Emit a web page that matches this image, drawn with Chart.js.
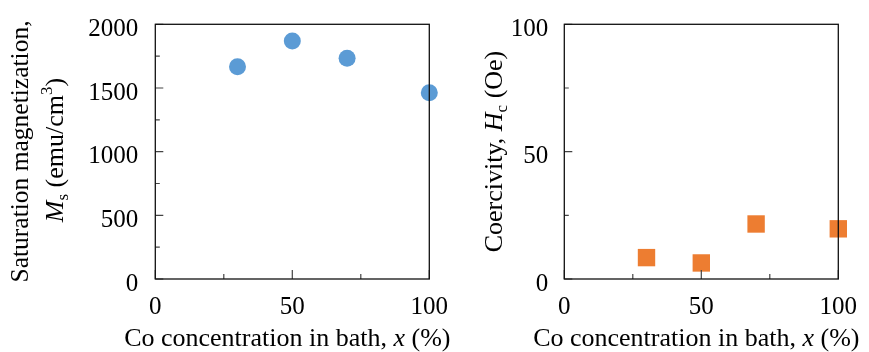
<!DOCTYPE html>
<html>
<head>
<meta charset="utf-8">
<title>Ms and Hc vs Co concentration</title>
<script src="https://cdn.jsdelivr.net/npm/chart.js@4/dist/chart.umd.min.js"></script>
<style>
html, body { margin: 0; padding: 0; background: #fff; }
#wrap { position: relative; width: 869px; height: 352px; }
#wrap canvas { position: absolute; left: 0; top: 0; }
</style>
</head>
<body>
<div id="wrap">
  <canvas id="msChart" width="869" height="352"></canvas>
  <canvas id="hcChart" width="869" height="352"></canvas>
</div>
<script>
// data
const concentration = [30, 50, 70, 100];
const saturation = [1667, 1869, 1733, 1463];   // emu/cm3
const coercivity = [8.4, 6.3, 21.6, 19.7];     // Oe

const xTicksMajor = [0, 50, 100];
const xTicksMinor = [25, 75];
const msTicksMajor = [0, 500, 1000, 1500, 2000];
const msTicksMinor = [250, 750, 1250, 1750];
const hcTicksMajor = [0, 50, 100];
const hcTicksMinor = [25, 75];

const SERIF = "'Liberation Serif', 'Times New Roman', serif";
const FS = 26;   // title text size
const TS = 25;   // tick label size
const SS = 17;   // sub/superscript size

function font(size, italic) {
    return (italic ? 'italic ' : '') + size + 'px ' + SERIF;
}

// draws a list of text pieces on one baseline, centred on (0,0) after transform
function drawRich(ctx, parts, cx, cy, angle) {
    ctx.save();
    ctx.translate(cx, cy);
    ctx.rotate(angle);
    ctx.fillStyle = '#000';
    ctx.textBaseline = 'alphabetic';
    ctx.textAlign = 'left';
    let w = 0;
    parts.forEach(p => { ctx.font = p.font; w += ctx.measureText(p.t).width; });
    let x = -w / 2;
    parts.forEach(p => {
        ctx.font = p.font;
        ctx.fillText(p.t, x, p.dy || 0);
        x += ctx.measureText(p.t).width;
    });
    ctx.restore();
}

// frame, inward ticks and titles
const framePlugin = {
    id: 'frame',
    afterDraw(chart, args, o) {
        const ctx = chart.ctx;
        const a = chart.chartArea;
        const xs = chart.scales.x, ys = chart.scales.y;
        ctx.save();
        ctx.strokeStyle = '#444';
        ctx.lineWidth = 1.2;
        ctx.beginPath();
        o.xMajor.forEach(v => { const p = xs.getPixelForValue(v); ctx.moveTo(p, a.bottom); ctx.lineTo(p, a.bottom - 9); });
        o.xMinor.forEach(v => { const p = xs.getPixelForValue(v); ctx.moveTo(p, a.bottom); ctx.lineTo(p, a.bottom - 5); });
        o.yMajor.forEach(v => { const p = ys.getPixelForValue(v); ctx.moveTo(a.left, p); ctx.lineTo(a.left + 8, p); });
        o.yMinor.forEach(v => { const p = ys.getPixelForValue(v); ctx.moveTo(a.left, p); ctx.lineTo(a.left + 4.5, p); });
        ctx.stroke();
        ctx.strokeStyle = '#111';
        ctx.lineWidth = 1.3;
        ctx.strokeRect(a.left, a.top, a.right - a.left, a.bottom - a.top);
        ctx.restore();

        // x title
        drawRich(ctx, [
            { t: 'Co concentration in bath, ', font: font(FS) },
            { t: 'x', font: font(FS, true) },
            { t: ' (%)', font: font(FS) }
        ], (a.left + a.right) / 2 - 5, 346, 0);

        // y title lines
        o.yTitle.forEach(line => drawRich(ctx, line.parts, line.x, line.y, -Math.PI / 2));
    }
};
Chart.register(framePlugin);

function scatterChart(id, values, color, style, radius, yMax, yStep, pad, yWidth, labelPad, frameOpts) {
    return new Chart(document.getElementById(id), {
        type: 'scatter',
        data: {
            datasets: [{
                data: concentration.map((c, i) => ({ x: c, y: values[i] })),
                pointStyle: style,
                pointRadius: radius,
                pointHoverRadius: radius,
                backgroundColor: color,
                borderColor: color,
                borderWidth: 0,
                clip: false
            }]
        },
        options: {
            responsive: false,
            animation: false,
            events: [],
            layout: { padding: pad },
            plugins: { legend: { display: false }, tooltip: { enabled: false }, frame: frameOpts },
            scales: {
                x: {
                    type: 'linear', min: 0, max: 100,
                    grid: { display: false },
                    border: { display: false },
                    ticks: { stepSize: 50, color: '#000', font: { family: SERIF, size: TS }, padding: 5, maxRotation: 0,
                             callback: v => String(v) },
                    afterFit: s => { s.height = 73; }
                },
                y: {
                    min: 0, max: yMax,
                    grid: { display: false },
                    border: { display: false },
                    ticks: { stepSize: yStep, color: '#000', font: { family: SERIF, size: TS }, padding: labelPad, labelOffset: 5,
                             callback: v => String(v) },
                    afterFit: s => { s.width = yWidth; }
                }
            }
        }
    });
}

scatterChart('msChart', saturation, '#5b9bd5', 'circle', 8.5, 2000, 500,
    { left: 0, right: 869 - 429.3, top: 24.3, bottom: 0 }, 155.3, 9, {
        xMajor: xTicksMajor, xMinor: xTicksMinor, yMajor: msTicksMajor, yMinor: msTicksMinor,
        yTitle: [
            { x: 28, y: 151.5, parts: [{ t: 'Saturation magnetization,', font: font(25.5) }] },
            { x: 63, y: 150, parts: [
                { t: 'M', font: font(FS, true) },
                { t: 's', font: font(SS), dy: 5 },
                { t: ' (emu/cm', font: font(FS) },
                { t: '3', font: font(SS), dy: -11 },
                { t: ')', font: font(FS) }
            ] }
        ]
    });

scatterChart('hcChart', coercivity, '#ed7d31', 'rect', 12.3, 100, 50,
    { left: 564.3 - 130, right: 869 - 838.3, top: 24.3, bottom: 0 }, 130, 8, {
        xMajor: xTicksMajor, xMinor: xTicksMinor, yMajor: hcTicksMajor, yMinor: hcTicksMinor,
        yTitle: [
            { x: 501.7, y: 151.5, parts: [
                { t: 'Coercivity, ', font: font(FS) },
                { t: 'H', font: font(FS, true) },
                { t: 'c', font: font(SS), dy: 5 },
                { t: ' (Oe)', font: font(FS) }
            ] }
        ]
    });
</script>
</body>
</html>
